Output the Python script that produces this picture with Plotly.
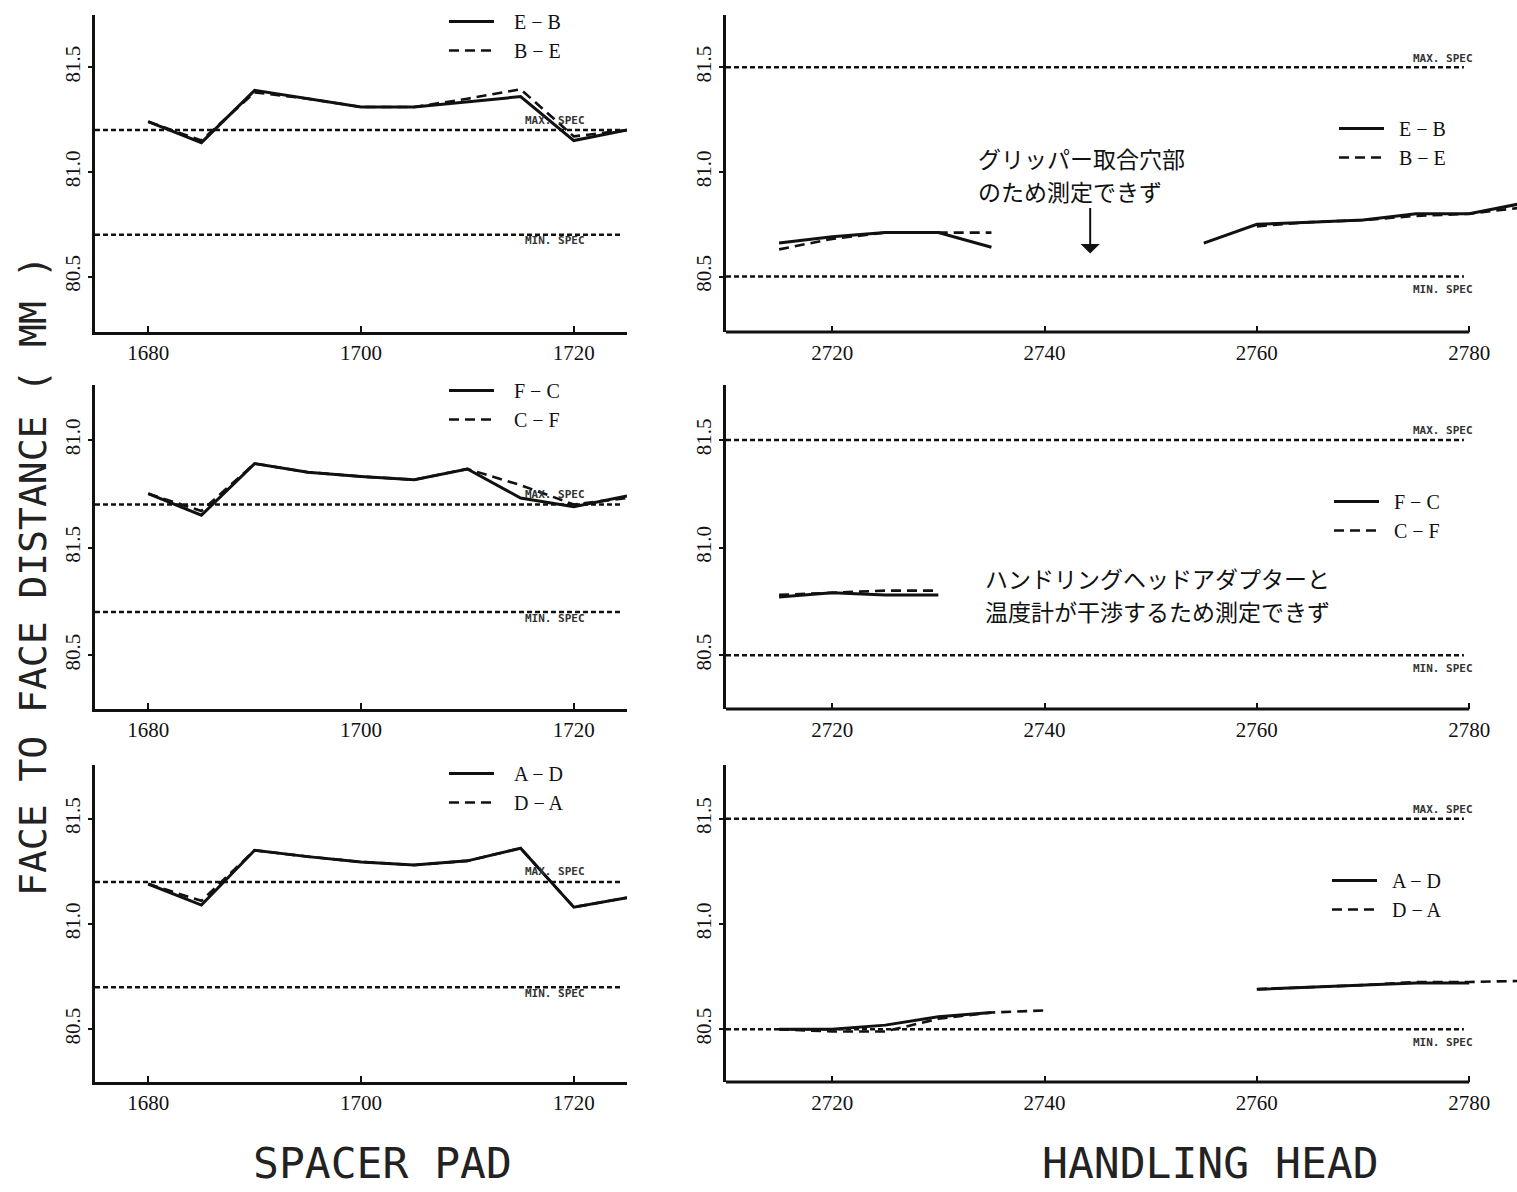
import plotly.graph_objects as go

# ---------------- data ----------------
SP_X = [1680, 1685, 1690, 1695, 1700, 1705, 1710, 1715, 1720, 1725]
SP_EB = [81.24, 81.14, 81.39, 81.35, 81.31, 81.31, 81.335, 81.36, 81.15, 81.20]
SP_BE = [81.24, 81.15, 81.38, 81.35, 81.31, 81.31, 81.35, 81.395, 81.17, 81.20]
SP_FC = [81.25, 81.15, 81.39, 81.35, 81.33, 81.315, 81.365, 81.23, 81.19, 81.24]
SP_CF = [81.25, 81.17, 81.39, 81.35, 81.33, 81.315, 81.365, 81.29, 81.20, 81.23]
SP_AD = [81.19, 81.09, 81.35, 81.32, 81.295, 81.28, 81.30, 81.36, 81.08, 81.125]
SP_DA = [81.19, 81.11, 81.35, 81.32, 81.295, 81.28, 81.30, 81.36, 81.08, 81.125]

HH_X = [2715, 2720, 2725, 2730, 2735, 2740, 2745, 2750, 2755, 2760, 2765, 2770, 2775, 2780, 2785]
HH_EB = [80.66, 80.69, 80.71, 80.71, 80.64, None, None, None, 80.66, 80.75, 80.76, 80.77, 80.80, 80.80, 80.85]
HH_BE = [80.63, 80.68, 80.71, 80.71, 80.71, None, None, None, None, 80.74, 80.76, 80.77, 80.79, 80.80, 80.83]
HH_FC = [80.77, 80.79, 80.78, 80.78, None, None, None, None, None, None, None, None, None, None, None]
HH_CF = [80.78, 80.79, 80.80, 80.80, None, None, None, None, None, None, None, None, None, None, None]
HH_AD = [80.50, 80.50, 80.52, 80.56, 80.58, None, None, None, None, 80.69, 80.70, 80.71, 80.72, 80.72, None]
HH_DA = [80.50, 80.49, 80.49, 80.55, 80.58, 80.59, None, None, None, 80.69, 80.70, 80.71, 80.725, 80.725, 80.73]

SP_MAX_SPEC = 81.2
SP_MIN_SPEC = 80.7
HH_MAX_SPEC = 81.5
HH_MIN_SPEC = 80.5
HH_AXIS_END = 2780

SP_XTICKS = [1680, 1700, 1720]
HH_XTICKS = [2720, 2740, 2760, 2780]
Y_TICKVALS = [80.5, 81.0, 81.5]
Y_TICKTEXT = ["80.5", "81.0", "81.5"]
Y_TICKTEXT_MID_LEFT = ["80.5", "81.5", "81.0"]  # as printed in the original

ROW_NAMES = [("E − B", "B − E"), ("F − C", "C − F"), ("A − D", "D − A")]
SP_SERIES = [(SP_EB, SP_BE), (SP_FC, SP_CF), (SP_AD, SP_DA)]
HH_SERIES = [(HH_EB, HH_BE), (HH_FC, HH_CF), (HH_AD, HH_DA)]

NOTE_GRIPPER = ["グリッパー取合穴部", "のため測定できず"]
NOTE_ADAPTER = ["ハンドリングヘッドアダプターと", "温度計が干渉するため測定できず"]

# ---------------- layout geometry ----------------
W, H = 1517, 1192
def px_x(p):
    return p / W
def px_y(p):
    return 1 - p / H

ROW_PX = [(15, 332), (385, 709), (765, 1082)]
Y_RANGES = [[80.235, 81.75], [80.25, 81.755], [80.25, 81.755]]
LEFT_DOM = [px_x(95), px_x(627)]
RIGHT_DOM = [px_x(726), 1.0]
SP_RANGE = [1675, 1725]
HH_RANGE = [2710, 2784.5]

SERIF = "Liberation Serif"
MONO = "DejaVu Sans Mono"
CJK = "Noto Sans CJK JP"
NB = "\u00a0"

fig = go.Figure()
layout = dict(
    width=W, height=H, margin=dict(l=0, r=0, t=0, b=0),
    paper_bgcolor="white", plot_bgcolor="white", showlegend=True,
)
shapes = []
annotations = []

LEG_POS = [
    # (left legend x px, y px top), (right legend x px, y px top)
    ((444, 2), (1334, 109)),
    ((444, 371), (1329, 482)),
    ((444, 754), (1327, 861)),
]
LEG_PAD = (NB * 3, NB * 2)

for r in range(3):
    top, bot = ROW_PX[r]
    ydom = [px_y(bot), px_y(top)]
    for side in range(2):
        n = 2 * r + side + 1
        sx = "" if n == 1 else str(n)
        xa, ya = "x" + sx, "y" + sx
        leg = "legend" if n == 1 else "legend" + str(n)
        if side == 0:
            xs, (s1, s2) = SP_X, SP_SERIES[r]
        else:
            xs, (s1, s2) = HH_X, HH_SERIES[r]
        names = ROW_NAMES[r]
        pad = LEG_PAD[side]
        fig.add_trace(go.Scatter(x=xs, y=s1, mode="lines", name=pad + names[0],
                                 line=dict(color="#111", width=3),
                                 xaxis=xa, yaxis=ya, legend=leg, connectgaps=False))
        fig.add_trace(go.Scatter(x=xs, y=s2, mode="lines", name=pad + names[1],
                                 line=dict(color="#111", width=2.6, dash="10px,6px"),
                                 xaxis=xa, yaxis=ya, legend=leg, connectgaps=False))

        xkey = "xaxis" if n == 1 else "xaxis" + str(n)
        ykey = "yaxis" if n == 1 else "yaxis" + str(n)
        ticktext = Y_TICKTEXT_MID_LEFT if (r == 1 and side == 0) else Y_TICKTEXT
        layout[xkey] = dict(
            domain=LEFT_DOM if side == 0 else RIGHT_DOM,
            range=SP_RANGE if side == 0 else HH_RANGE,
            anchor=ya, showgrid=False, zeroline=False,
            showline=(side == 0), linecolor="#111", linewidth=3,
            ticks="inside", ticklen=6, tickwidth=2, tickcolor="#111",
            tickvals=SP_XTICKS if side == 0 else HH_XTICKS,
            tickfont=dict(family=SERIF, size=21, color="#111"),
            ticklabelstandoff=0 if side == 0 else 6,
        )
        layout[ykey] = dict(
            domain=ydom, range=Y_RANGES[r], anchor=xa,
            showgrid=False, zeroline=False,
            showline=True, linecolor="#111", linewidth=3,
            ticks="outside", ticklen=4, tickwidth=2, tickcolor="#111",
            tickvals=Y_TICKVALS, ticktext=ticktext, tickangle=-90,
            tickfont=dict(family=SERIF, size=21, color="#111"),
            ticklabelstandoff=0,
        )

        # spec lines and labels
        if side == 0:
            for val in (SP_MAX_SPEC, SP_MIN_SPEC):
                shapes.append(dict(type="line", xref=xa + " domain", yref=ya,
                                   x0=0, x1=0.99, y0=val, y1=val,
                                   line=dict(color="#111", width=2.5, dash="5px,3px")))
            lab_x = 1718.2
            annotations.append(dict(xref=xa, yref=ya, x=lab_x, y=SP_MAX_SPEC, yshift=10,
                                    text="MAX. SPEC", showarrow=False,
                                    font=dict(family=MONO, size=11, color="#333", weight="bold")))
            annotations.append(dict(xref=xa, yref=ya, x=lab_x, y=SP_MIN_SPEC, yshift=-6,
                                    text="MIN. SPEC", showarrow=False,
                                    font=dict(family=MONO, size=11, color="#333", weight="bold")))
        else:
            for val in (HH_MAX_SPEC, HH_MIN_SPEC):
                shapes.append(dict(type="line", xref=xa, yref=ya,
                                   x0=HH_RANGE[0], x1=HH_AXIS_END - 0.5, y0=val, y1=val,
                                   line=dict(color="#111", width=2.5, dash="5px,3px")))
            # x-axis line stops at the last tick
            shapes.append(dict(type="line", xref=xa, yref=ya + " domain",
                               x0=HH_RANGE[0], x1=HH_AXIS_END, y0=0, y1=0,
                               line=dict(color="#111", width=3)))
            lab_x = 2777.5
            annotations.append(dict(xref=xa, yref=ya, x=lab_x, y=HH_MAX_SPEC, yshift=9,
                                    text="MAX. SPEC", showarrow=False,
                                    font=dict(family=MONO, size=11, color="#333", weight="bold")))
            annotations.append(dict(xref=xa, yref=ya, x=lab_x, y=HH_MIN_SPEC, yshift=-13,
                                    text="MIN. SPEC", showarrow=False,
                                    font=dict(family=MONO, size=11, color="#333", weight="bold")))

        lx, ly = LEG_POS[r][side]
        layout[leg] = dict(x=px_x(lx), y=px_y(ly), xanchor="left", yanchor="top",
                           bgcolor="rgba(0,0,0,0)", borderwidth=0,
                           font=dict(family=SERIF, size=20, color="#111"),
                           itemwidth=45, tracegroupgap=0, traceorder="normal")

# notes on the right panels (one annotation per printed line)
for i, line in enumerate(NOTE_GRIPPER):
    annotations.append(dict(xref="x2", yref="y2", x=2733.5, y=80.99, yshift=16.5 - 33 * i,
                            xanchor="left", yanchor="middle", text=line, showarrow=False,
                            font=dict(family=CJK, size=23, color="#111")))
for i, line in enumerate(NOTE_ADAPTER):
    annotations.append(dict(xref="x4", yref="y4", x=2734.2, y=80.78, yshift=16.5 - 33 * i,
                            xanchor="left", yanchor="middle", text=line, showarrow=False,
                            font=dict(family=CJK, size=23, color="#111")))
annotations.append(dict(xref="x2", yref="y2", x=2744.3, y=80.61, ax=2744.3, ay=80.835,
                        axref="x2", ayref="y2", text="", showarrow=True,
                        arrowhead=1, arrowsize=1.6, arrowwidth=2, arrowcolor="#111"))

# axis titles
annotations.append(dict(xref="paper", yref="paper", x=px_x(33), y=px_y(576),
                        xanchor="center", yanchor="middle",
                        text="FACE TO FACE DISTANCE ( MM )", textangle=-90, showarrow=False,
                        font=dict(family=MONO, size=38, color="#222")))
annotations.append(dict(xref="paper", yref="paper", x=px_x(382), y=px_y(1163),
                        xanchor="center", yanchor="middle",
                        text="SPACER PAD", showarrow=False,
                        font=dict(family=MONO, size=43, color="#222")))
annotations.append(dict(xref="paper", yref="paper", x=px_x(1210), y=px_y(1163),
                        xanchor="center", yanchor="middle",
                        text="HANDLING HEAD", showarrow=False,
                        font=dict(family=MONO, size=43, color="#222")))

layout["shapes"] = shapes
layout["annotations"] = annotations
fig.update_layout(**layout)
fig.write_html("out.html")
